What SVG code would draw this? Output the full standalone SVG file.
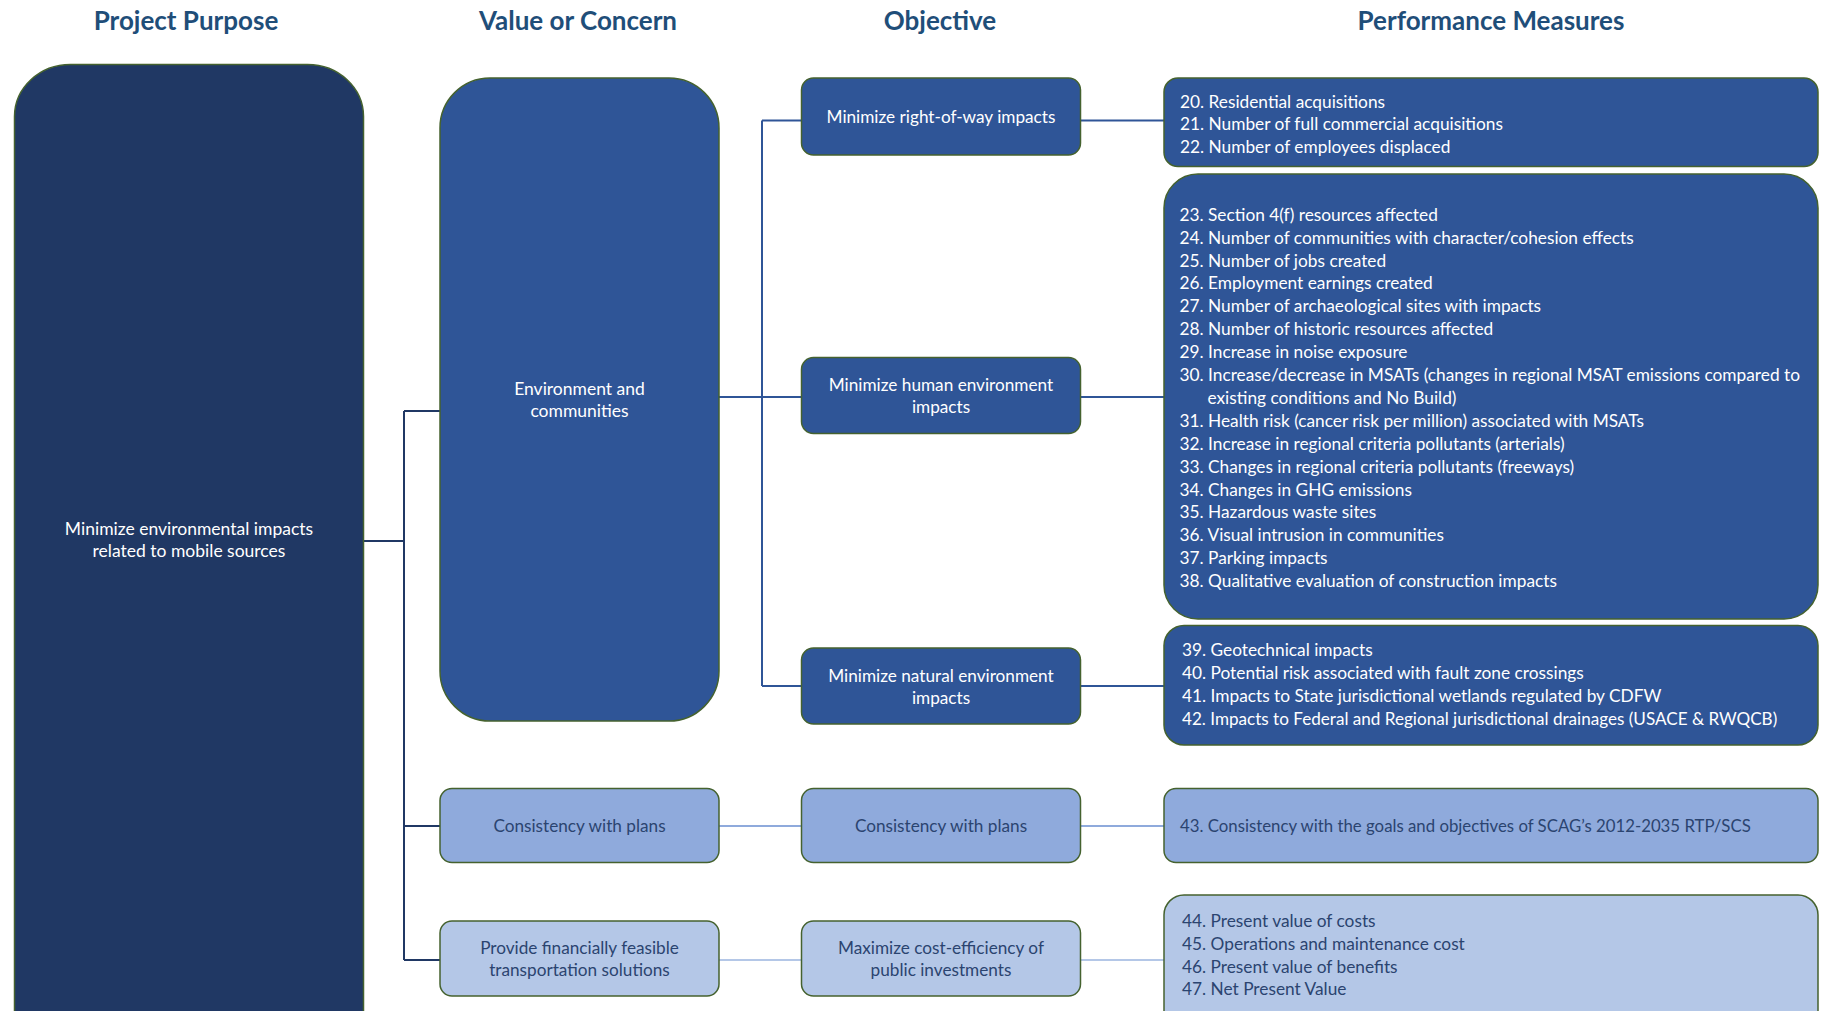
<svg xmlns="http://www.w3.org/2000/svg" width="1824" height="1011" viewBox="0 0 1824 1011">
<style>
.hdr{font-family:Lato,"Liberation Sans",sans-serif;font-weight:700;font-size:26px;fill:#1F4E79;text-anchor:middle}
.box{stroke:#45622F;stroke-width:1.5}
.dk{fill:#203864}
.md{fill:#2F5597}
.lt1{fill:#8FAADC}
.lt2{fill:#B4C7E7}
.t{font-family:Lato,"Liberation Sans",sans-serif;font-size:17.2px;text-anchor:middle}
.tv{font-family:Lato,"Liberation Sans",sans-serif;font-size:17.5px;text-anchor:middle}
.pm{font-family:Lato,"Liberation Sans",sans-serif;font-size:17.3px}
.w{fill:#FFFFFF}
.d{fill:#2B4470}
.c{fill:none;stroke-width:2}
</style>
<rect width="1824" height="1011" fill="#FFFFFF"/>
<g id="headers">
<text class="hdr" x="186" y="30">Project Purpose</text>
<text class="hdr" x="578" y="30">Value or Concern</text>
<text class="hdr" x="940" y="30">Objective</text>
<text class="hdr" x="1491" y="30">Performance Measures</text>
</g>
<g id="connectors">
<path class="c" stroke="#203864" d="M364,541 H404 M404,411 V960 M404,411 H440 M404,826 H440 M404,960 H440"/>
<path class="c" stroke="#2F5597" d="M719,397 H801 M762,120.5 V686 M762,120.5 H801 M762,686 H801 M1081,120.5 H1164 M1081,397 H1164 M1081,686 H1164"/>
<path class="c" stroke="#8FAADC" stroke-width="2.5" d="M719,826 H801 M1081,826 H1164"/>
<path class="c" stroke="#B4C7E7" stroke-width="2.5" d="M719,960 H801 M1081,960 H1164"/>
</g>
<g id="purpose">
<rect class="box dk" x="14.5" y="64.5" width="349" height="1000" rx="56" ry="52"/>
<text class="tv w" x="189" y="535">Minimize environmental impacts</text>
<text class="tv w" x="189" y="557">related to mobile sources</text>
</g>
<g id="value-env">
<rect class="box md" x="440" y="78" width="279" height="643" rx="50" ry="50"/>
<text class="tv w" x="579.5" y="395">Environment and</text>
<text class="tv w" x="579.5" y="417">communities</text>
</g>
<g id="value-plans">
<rect class="box lt1" x="440" y="788.5" width="279" height="74" rx="12" ry="12"/>
<text class="t d" x="579.5" y="832">Consistency with plans</text>
</g>
<g id="value-finance">
<rect class="box lt2" x="440" y="921" width="279" height="75" rx="12" ry="12"/>
<text class="t d" x="579.5" y="954">Provide financially feasible</text>
<text class="t d" x="579.5" y="976">transportation solutions</text>
</g>
<g id="obj-row">
<rect class="box md" x="801.5" y="78" width="279" height="77" rx="12" ry="12"/>
<text class="t w" x="941" y="122.5">Minimize right-of-way impacts</text>
</g>
<g id="obj-human">
<rect class="box md" x="801.5" y="357.5" width="279" height="76" rx="12" ry="12"/>
<text class="t w" x="941" y="391">Minimize human environment</text>
<text class="t w" x="941" y="413">impacts</text>
</g>
<g id="obj-natural">
<rect class="box md" x="801.5" y="648" width="279" height="76" rx="12" ry="12"/>
<text class="t w" x="941" y="682">Minimize natural environment</text>
<text class="t w" x="941" y="704">impacts</text>
</g>
<g id="obj-plans">
<rect class="box lt1" x="801.5" y="788.5" width="279" height="74" rx="12" ry="12"/>
<text class="t d" x="941" y="832">Consistency with plans</text>
</g>
<g id="obj-cost">
<rect class="box lt2" x="801.5" y="921" width="279" height="75" rx="12" ry="12"/>
<text class="t d" x="941" y="954">Maximize cost-efficiency of</text>
<text class="t d" x="941" y="976">public investments</text>
</g>
<g id="pm-row">
<rect class="box md" x="1164" y="78" width="654" height="88.5" rx="14" ry="14"/>
<text class="pm w" x="1180" y="107.5">20. Residential acquisitions</text>
<text class="pm w" x="1180" y="130.4">21. Number of full commercial acquisitions</text>
<text class="pm w" x="1180" y="153.3">22. Number of employees displaced</text>
</g>
<g id="pm-human">
<rect class="box md" x="1164" y="174" width="654" height="445" rx="34" ry="34"/>
<text class="pm w" x="1179.5" y="220.7">23. Section 4(f) resources affected</text>
<text class="pm w" x="1179.5" y="243.6">24. Number of communities with character/cohesion effects</text>
<text class="pm w" x="1179.5" y="266.5">25. Number of jobs created</text>
<text class="pm w" x="1179.5" y="289.4">26. Employment earnings created</text>
<text class="pm w" x="1179.5" y="312.3">27. Number of archaeological sites with impacts</text>
<text class="pm w" x="1179.5" y="335.2">28. Number of historic resources affected</text>
<text class="pm w" x="1179.5" y="358.1">29. Increase in noise exposure</text>
<text class="pm w" x="1179.5" y="381">30. Increase/decrease in MSATs (changes in regional MSAT emissions compared to</text>
<text class="pm w" x="1207.5" y="403.9">existing conditions and No Build)</text>
<text class="pm w" x="1179.5" y="426.8">31. Health risk (cancer risk per million) associated with MSATs</text>
<text class="pm w" x="1179.5" y="449.7">32. Increase in regional criteria pollutants (arterials)</text>
<text class="pm w" x="1179.5" y="472.6">33. Changes in regional criteria pollutants (freeways)</text>
<text class="pm w" x="1179.5" y="495.5">34. Changes in GHG emissions</text>
<text class="pm w" x="1179.5" y="518.4">35. Hazardous waste sites</text>
<text class="pm w" x="1179.5" y="541.3">36. Visual intrusion in communities</text>
<text class="pm w" x="1179.5" y="564.2">37. Parking impacts</text>
<text class="pm w" x="1179.5" y="587.1">38. Qualitative evaluation of construction impacts</text>
</g>
<g id="pm-natural">
<rect class="box md" x="1164" y="625.5" width="654" height="119.5" rx="20" ry="20"/>
<text class="pm w" x="1182" y="655.8">39. Geotechnical impacts</text>
<text class="pm w" x="1182" y="678.7">40. Potential risk associated with fault zone crossings</text>
<text class="pm w" x="1182" y="701.6">41. Impacts to State jurisdictional wetlands regulated by CDFW</text>
<text class="pm w" x="1182" y="724.5" style="font-size:17.1px">42. Impacts to Federal and Regional jurisdictional drainages (USACE &amp; RWQCB)</text>
</g>
<g id="pm-plans">
<rect class="box lt1" x="1164" y="788.5" width="654" height="74" rx="12" ry="12"/>
<text class="pm d" x="1180" y="832.3" style="font-size:16.8px">43. Consistency with the goals and objectives of SCAG’s 2012-2035 RTP/SCS</text>
</g>
<g id="pm-cost">
<rect class="box lt2" x="1164" y="895" width="654" height="150" rx="20" ry="20"/>
<text class="pm d" x="1182" y="926.7">44. Present value of costs</text>
<text class="pm d" x="1182" y="949.6">45. Operations and maintenance cost</text>
<text class="pm d" x="1182" y="972.5">46. Present value of benefits</text>
<text class="pm d" x="1182" y="995.4">47. Net Present Value</text>
</g>
</svg>
